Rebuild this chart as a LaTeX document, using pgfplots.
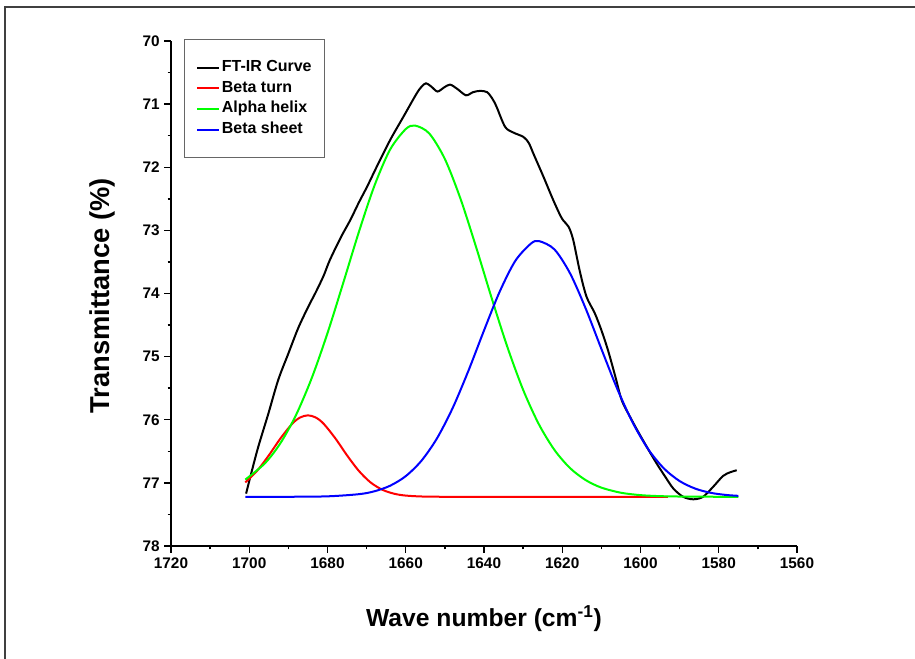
\documentclass[border=0pt]{standalone}
\usepackage{fontspec}
\setmainfont{Liberation Sans}
\usepackage{pgfplots}
\pgfplotsset{compat=1.18}
\definecolor{cblack}{RGB}{0,0,0}
\definecolor{cred}{RGB}{255,0,0}
\definecolor{cgreen}{RGB}{0,255,0}
\definecolor{cblue}{RGB}{0,0,255}
\begin{document}
\begin{tikzpicture}
\useasboundingbox (0,0) rectangle (686.25pt,-493.5pt);
\draw[line width=1.1pt, black!75] (3.75pt,-800pt) -- (3.75pt,-5.25pt) -- (900pt,-5.25pt);
\begin{axis}[at={(128.25pt,-409.5pt)}, anchor=south west, scale only axis,
  width=469.5pt, height=378.75pt,
  x dir=reverse, y dir=reverse, xmin=1560, xmax=1720, ymin=70, ymax=78,
  xtick={1560,1580,...,1720}, ytick={70,...,78}, minor x tick num=1, minor y tick num=1,
  axis lines*=left, axis line style={-, line width=1.1pt}, tick align=outside,
  major tick length=5pt, minor tick length=2.5pt, every tick/.style={black, line width=1.1pt},
  tick label style={font=\fontsize{11.5}{13}\selectfont\bfseries},
  /pgf/number format/assume math mode=true, /pgf/number format/1000 sep={},
  clip=false,
  legend style={at={(axis cs:1716.7,69.97)}, anchor=north west, draw=black!60, line width=0.7pt,
    fill=white, font=\fontsize{12}{14}\selectfont\bfseries, inner xsep=9pt, inner ysep=14pt,
    row sep=1.5pt, nodes={inner sep=1pt, text height=9pt, text depth=3pt}},
  legend cell align=left,
  legend image code/.code={\draw[#1, line width=1.6pt] (0pt,0pt) -- (16.5pt,0pt);}]
\addplot[color=cblack, line width=1.5pt, smooth] coordinates {(1700.8,77.17) (1699.5,76.85) (1697.7,76.43) (1695.1,75.90) (1692.6,75.37)
  (1690,74.95) (1687.5,74.55) (1685,74.22) (1683,73.98) (1681,73.72) (1679.4,73.47) (1676.5,73.10)
  (1674.2,72.84) (1672,72.56) (1669.9,72.31) (1667.4,71.99) (1664,71.57) (1660.6,71.20) (1657.2,70.83)
  (1655.9,70.72) (1654.8,70.67) (1653.5,70.72) (1651.9,70.80) (1650.3,70.74) (1648.7,70.69)
  (1646.8,70.76) (1644.6,70.86) (1642.8,70.81) (1641,70.79) (1639.2,70.81) (1637.8,70.92)
  (1636.8,71.04) (1634.6,71.36) (1632.5,71.45) (1629.9,71.52) (1628.5,71.62) (1627.4,71.78)
  (1624.8,72.15) (1622.3,72.52) (1620.1,72.81) (1618.4,72.94) (1617.2,73.15) (1615.5,73.65)
  (1613.8,74.05) (1611.7,74.31) (1610,74.58) (1608.3,74.90) (1606.5,75.30) (1604.8,75.69)
  (1602.7,75.95) (1600.6,76.19) (1598.2,76.45) (1595.9,76.69) (1593.7,76.90) (1591.6,77.09)
  (1589.1,77.22) (1586.5,77.26) (1584,77.22) (1581.4,77.06) (1578.9,76.89) (1577,76.83) (1575.4,76.80)};
\addlegendentry{FT-IR Curve}
\addplot[color=cred, line width=1.5pt, smooth] coordinates {(1701,76.992) (1698,76.809) (1695,76.564) (1692,76.294) (1689,76.062)
  (1687,75.964) (1685,75.930) (1683,75.964) (1681,76.062) (1678,76.294) (1675,76.564) (1672,76.809)
  (1669,76.992) (1666,77.108) (1663,77.171) (1660,77.201) (1655,77.217) (1645,77.220) (1593,77.220)};
\addlegendentry{Beta turn}
\addplot[color=cgreen, line width=1.5pt, smooth] coordinates {(1701,76.948) (1696,76.690) (1692,76.368) (1688,75.919) (1684,75.335)
  (1680,74.628) (1676,73.837) (1672,73.029) (1668,72.292) (1664,71.720) (1660,71.395) (1657.6,71.340)
  (1654,71.464) (1650,71.869) (1646,72.500) (1642,73.268) (1638,74.080) (1634,74.851) (1630,75.525)
  (1626,76.068) (1622,76.477) (1618,76.766) (1614,76.956) (1610,77.075) (1605,77.156) (1600,77.194)
  (1595,77.210) (1590,77.216) (1585,77.218) (1580,77.220) (1575,77.220)};
\addlegendentry{Alpha helix}
\addplot[color=cblue, line width=1.5pt, smooth] coordinates {(1701,77.220) (1690,77.220) (1680,77.213) (1672,77.179) (1668,77.133)
  (1664,77.045) (1660,76.893) (1656,76.650) (1652,76.293) (1648,75.813) (1644,75.227) (1640,74.586)
  (1636,73.972) (1632,73.483) (1628,73.209) (1625.9,73.170) (1622,73.301) (1618,73.681) (1614,74.239)
  (1610,74.877) (1606,75.501) (1602,76.044) (1598,76.469) (1594,76.772) (1590,76.971) (1586,77.091)
  (1582,77.158) (1578,77.192) (1575,77.205)};
\addlegendentry{Beta sheet}
\end{axis}
\node[anchor=base, font=\fontsize{18.5}{20}\selectfont\bfseries] at (363pt,-469.5pt) {Wave number (cm\textsuperscript{-1})};
\node[anchor=base, rotate=90, font=\fontsize{20.5}{22}\selectfont\bfseries] at (81.75pt,-222pt) {Transmittance (\%)};
\end{tikzpicture}
\end{document}
